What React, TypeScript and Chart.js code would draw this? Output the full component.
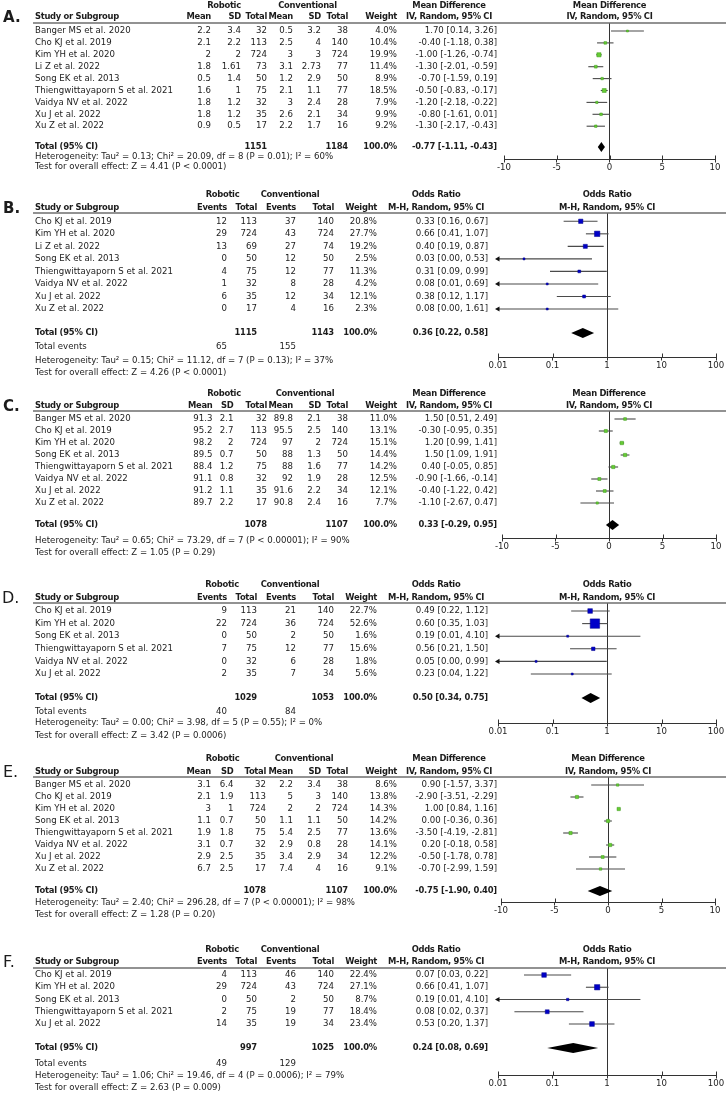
import React, { useEffect, useRef } from "react";
import { Chart, registerables } from "chart.js";

Chart.register(...registerables);

const FONT = "'DejaVu Sans', 'Liberation Sans', sans-serif";
const INK = "#1c1c1c";
const W = 726;

// ---------- axis ticks ----------
const MD_TICKS = [-10, -5, 0, 5, 10];
const MD_TICK_LABELS = ["-10", "-5", "0", "5", "10"];
const OR_TICKS = [0.01, 0.1, 1, 10, 100];
const OR_TICK_LABELS = ["0.01", "0.1", "1", "10", "100"];

// ---------- Panel A (Mean Difference) ----------
const A_STUDIES = ["Banger MS et al. 2020", "Cho KJ et al. 2019", "Kim YH et al. 2020", "Li Z et al. 2022", "Song EK et al. 2013", "Thiengwittayaporn S et al. 2021", "Vaidya NV et al. 2022", "Xu J et al. 2022", "Xu Z et al. 2022"];
const A_ROB_MEAN = [2.2, 2.1, 2, 1.8, 0.5, 1.6, 1.8, 1.8, 0.9];
const A_ROB_SD = [3.4, 2.2, 2, 1.61, 1.4, 1, 1.2, 1.2, 0.5];
const A_ROB_N = [32, 113, 724, 73, 50, 75, 32, 35, 17];
const A_CON_MEAN = [0.5, 2.5, 3, 3.1, 1.2, 2.1, 3, 2.6, 2.2];
const A_CON_SD = [3.2, 4, 3, 2.73, 2.9, 1.1, 2.4, 2.1, 1.7];
const A_CON_N = [38, 140, 724, 77, 50, 77, 28, 34, 16];
const A_WEIGHT = [4.0, 10.4, 19.9, 11.4, 8.9, 18.5, 7.9, 9.9, 9.2];
const A_EST = [1.7, -0.4, -1.0, -1.3, -0.7, -0.5, -1.2, -0.8, -1.3];
const A_LOW = [0.14, -1.18, -1.26, -2.01, -1.59, -0.83, -2.18, -1.61, -2.17];
const A_HIGH = [3.26, 0.38, -0.74, -0.59, 0.19, -0.17, -0.22, 0.01, -0.43];
const A_TOTAL = [1151, 1184];
const A_POOLED = [-0.77, -1.11, -0.43];
const A_HET = "Heterogeneity: Tau² = 0.13; Chi² = 20.09, df = 8 (P = 0.01); I² = 60%";
const A_TEST = "Test for overall effect: Z = 4.41 (P < 0.0001)";

// ---------- Panel B (Odds Ratio) ----------
const B_STUDIES = ["Cho KJ et al. 2019", "Kim YH et al. 2020", "Li Z et al. 2022", "Song EK et al. 2013", "Thiengwittayaporn S et al. 2021", "Vaidya NV et al. 2022", "Xu J et al. 2022", "Xu Z et al. 2022"];
const B_ROB_EV = [12, 29, 13, 0, 4, 1, 6, 0];
const B_ROB_N = [113, 724, 69, 50, 75, 32, 35, 17];
const B_CON_EV = [37, 43, 27, 12, 12, 8, 12, 4];
const B_CON_N = [140, 724, 74, 50, 77, 28, 34, 16];
const B_WEIGHT = [20.8, 27.7, 19.2, 2.5, 11.3, 4.2, 12.1, 2.3];
const B_EST = [0.33, 0.66, 0.4, 0.03, 0.31, 0.08, 0.38, 0.08];
const B_LOW = [0.16, 0.41, 0.19, 0.0, 0.09, 0.01, 0.12, 0.0];
const B_HIGH = [0.67, 1.07, 0.87, 0.53, 0.99, 0.69, 1.17, 1.61];
const B_TOTAL = [1115, 1143];
const B_EVENTS = [65, 155];
const B_POOLED = [0.36, 0.22, 0.58];
const B_HET = "Heterogeneity: Tau² = 0.15; Chi² = 11.12, df = 7 (P = 0.13); I² = 37%";
const B_TEST = "Test for overall effect: Z = 4.26 (P < 0.0001)";

// ---------- Panel C (Mean Difference) ----------
const C_STUDIES = ["Banger MS et al. 2020", "Cho KJ et al. 2019", "Kim YH et al. 2020", "Song EK et al. 2013", "Thiengwittayaporn S et al. 2021", "Vaidya NV et al. 2022", "Xu J et al. 2022", "Xu Z et al. 2022"];
const C_ROB_MEAN = [91.3, 95.2, 98.2, 89.5, 88.4, 91.1, 91.2, 89.7];
const C_ROB_SD = [2.1, 2.7, 2, 0.7, 1.2, 0.8, 1.1, 2.2];
const C_ROB_N = [32, 113, 724, 50, 75, 32, 35, 17];
const C_CON_MEAN = [89.8, 95.5, 97, 88, 88, 92, 91.6, 90.8];
const C_CON_SD = [2.1, 2.5, 2, 1.3, 1.6, 1.9, 2.2, 2.4];
const C_CON_N = [38, 140, 724, 50, 77, 28, 34, 16];
const C_WEIGHT = [11.0, 13.1, 15.1, 14.4, 14.2, 12.5, 12.1, 7.7];
const C_EST = [1.5, -0.3, 1.2, 1.5, 0.4, -0.9, -0.4, -1.1];
const C_LOW = [0.51, -0.95, 0.99, 1.09, -0.05, -1.66, -1.22, -2.67];
const C_HIGH = [2.49, 0.35, 1.41, 1.91, 0.85, -0.14, 0.42, 0.47];
const C_TOTAL = [1078, 1107];
const C_POOLED = [0.33, -0.29, 0.95];
const C_HET = "Heterogeneity: Tau² = 0.65; Chi² = 73.29, df = 7 (P < 0.00001); I² = 90%";
const C_TEST = "Test for overall effect: Z = 1.05 (P = 0.29)";

// ---------- Panel D (Odds Ratio) ----------
const D_STUDIES = ["Cho KJ et al. 2019", "Kim YH et al. 2020", "Song EK et al. 2013", "Thiengwittayaporn S et al. 2021", "Vaidya NV et al. 2022", "Xu J et al. 2022"];
const D_ROB_EV = [9, 22, 0, 7, 0, 2];
const D_ROB_N = [113, 724, 50, 75, 32, 35];
const D_CON_EV = [21, 36, 2, 12, 6, 7];
const D_CON_N = [140, 724, 50, 77, 28, 34];
const D_WEIGHT = [22.7, 52.6, 1.6, 15.6, 1.8, 5.6];
const D_EST = [0.49, 0.6, 0.19, 0.56, 0.05, 0.23];
const D_LOW = [0.22, 0.35, 0.01, 0.21, 0.0, 0.04];
const D_HIGH = [1.12, 1.03, 4.1, 1.5, 0.99, 1.22];
const D_TOTAL = [1029, 1053];
const D_EVENTS = [40, 84];
const D_POOLED = [0.5, 0.34, 0.75];
const D_HET = "Heterogeneity: Tau² = 0.00; Chi² = 3.98, df = 5 (P = 0.55); I² = 0%";
const D_TEST = "Test for overall effect: Z = 3.42 (P = 0.0006)";

// ---------- Panel E (Mean Difference) ----------
const E_STUDIES = ["Banger MS et al. 2020", "Cho KJ et al. 2019", "Kim YH et al. 2020", "Song EK et al. 2013", "Thiengwittayaporn S et al. 2021", "Vaidya NV et al. 2022", "Xu J et al. 2022", "Xu Z et al. 2022"];
const E_ROB_MEAN = [3.1, 2.1, 3, 1.1, 1.9, 3.1, 2.9, 6.7];
const E_ROB_SD = [6.4, 1.9, 1, 0.7, 1.8, 0.7, 2.5, 2.5];
const E_ROB_N = [32, 113, 724, 50, 75, 32, 35, 17];
const E_CON_MEAN = [2.2, 5, 2, 1.1, 5.4, 2.9, 3.4, 7.4];
const E_CON_SD = [3.4, 3, 2, 1.1, 2.5, 0.8, 2.9, 4];
const E_CON_N = [38, 140, 724, 50, 77, 28, 34, 16];
const E_WEIGHT = [8.6, 13.8, 14.3, 14.2, 13.6, 14.1, 12.2, 9.1];
const E_EST = [0.9, -2.9, 1.0, 0.0, -3.5, 0.2, -0.5, -0.7];
const E_LOW = [-1.57, -3.51, 0.84, -0.36, -4.19, -0.18, -1.78, -2.99];
const E_HIGH = [3.37, -2.29, 1.16, 0.36, -2.81, 0.58, 0.78, 1.59];
const E_TOTAL = [1078, 1107];
const E_POOLED = [-0.75, -1.9, 0.4];
const E_HET = "Heterogeneity: Tau² = 2.40; Chi² = 296.28, df = 7 (P < 0.00001); I² = 98%";
const E_TEST = "Test for overall effect: Z = 1.28 (P = 0.20)";

// ---------- Panel F (Odds Ratio) ----------
const F_STUDIES = ["Cho KJ et al. 2019", "Kim YH et al. 2020", "Song EK et al. 2013", "Thiengwittayaporn S et al. 2021", "Xu J et al. 2022"];
const F_ROB_EV = [4, 29, 0, 2, 14];
const F_ROB_N = [113, 724, 50, 75, 35];
const F_CON_EV = [46, 43, 2, 19, 19];
const F_CON_N = [140, 724, 50, 77, 34];
const F_WEIGHT = [22.4, 27.1, 8.7, 18.4, 23.4];
const F_EST = [0.07, 0.66, 0.19, 0.08, 0.53];
const F_LOW = [0.03, 0.41, 0.01, 0.02, 0.2];
const F_HIGH = [0.22, 1.07, 4.1, 0.37, 1.37];
const F_TOTAL = [997, 1025];
const F_EVENTS = [49, 129];
const F_POOLED = [0.24, 0.08, 0.69];
const F_HET = "Heterogeneity: Tau² = 1.06; Chi² = 19.46, df = 4 (P = 0.0006); I² = 79%";
const F_TEST = "Test for overall effect: Z = 2.63 (P = 0.009)";

// ---------- layout (pixel positions, local to each panel canvas) ----------
type Layout = {
  top: number; h: number; h1: number; h2: number; line: number; row0: number; step: number;
  total: number; events?: number; het: number; test: number; axis: number;
  cols: number[]; groups: number[]; ciRight: number; ciHead: number; xLeft: number; xRight: number;
  letterX: number; letterBold: boolean;
};
const MD_COLS_A = [211, 241, 267, 293, 321, 348, 397];
const MD_COLS_C = [212.5, 233.5, 267, 293, 321, 348, 397];
const MD_COLS_E = [211, 233.5, 266, 293, 321, 348, 397];
const OR_COLS = [227, 257, 296, 334, 377];

const LAYOUT_A: Layout = { top: 0, h: 176, h1: 6, h2: 17, line: 23, row0: 31, step: 11.9, total: 147, het: 157, test: 167, axis: 159, cols: MD_COLS_A, groups: [224, 307.5], ciRight: 497, ciHead: 449, xLeft: 504, xRight: 715, letterX: 3, letterBold: true };
const LAYOUT_B: Layout = { top: 178, h: 200, h1: 17, h2: 30, line: 35, row0: 43.3, step: 12.53, total: 155, events: 169, het: 183, test: 195, axis: 179, cols: OR_COLS, groups: [222.5, 290], ciRight: 488, ciHead: 436, xLeft: 498, xRight: 716, letterX: 3, letterBold: true };
const LAYOUT_C: Layout = { top: 380, h: 180, h1: 14, h2: 26, line: 31, row0: 39, step: 12, total: 145, het: 161, test: 173, axis: 158, cols: MD_COLS_C, groups: [224, 305], ciRight: 497, ciHead: 449, xLeft: 502, xRight: 716, letterX: 3, letterBold: true };
const LAYOUT_D: Layout = { top: 562, h: 180, h1: 23, h2: 36, line: 41, row0: 49, step: 12.6, total: 136, events: 150, het: 161, test: 174, axis: 161, cols: OR_COLS, groups: [222, 290], ciRight: 488, ciHead: 436, xLeft: 498, xRight: 716, letterX: 2, letterBold: false };
const LAYOUT_E: Layout = { top: 744, h: 178, h1: 15, h2: 28, line: 33, row0: 41, step: 12, total: 147, het: 159, test: 171, axis: 158, cols: MD_COLS_E, groups: [222.5, 304], ciRight: 497, ciHead: 449, xLeft: 501, xRight: 715, letterX: 3, letterBold: false };
const LAYOUT_F: Layout = { top: 922, h: 173, h1: 28, h2: 40, line: 46, row0: 53, step: 12.25, total: 126, events: 142, het: 154, test: 166, axis: 153, cols: OR_COLS, groups: [222, 290], ciRight: 488, ciHead: 436, xLeft: 498, xRight: 716, letterX: 3, letterBold: false };

type PanelDef = {
  kind: "MD" | "OR"; letter: string; studies: string[]; cells: string[][]; totalCells: string[];
  events?: number[]; weight: number[]; est: number[]; low: number[]; high: number[]; pooled: number[];
  het: string; test: string; layout: Layout;
};

const f2 = (v: number) => (Math.abs(v) < 1e-9 ? 0 : v).toFixed(2);
const ciText = (e: number, l: number, h: number) => `${f2(e)} [${f2(l)}, ${f2(h)}]`;

function mdPanel(letter: string, studies: string[], rm: number[], rs: number[], rn: number[], cm: number[], cs: number[], cn: number[], w: number[], est: number[], low: number[], high: number[], tot: number[], pooled: number[], het: string, test: string, layout: Layout): PanelDef {
  return {
    kind: "MD", letter, studies,
    cells: studies.map((_, i) => [String(rm[i]), String(rs[i]), String(rn[i]), String(cm[i]), String(cs[i]), String(cn[i]), w[i].toFixed(1) + "%"]),
    totalCells: ["", "", String(tot[0]), "", "", String(tot[1]), "100.0%"],
    weight: w, est, low, high, pooled, het, test, layout,
  };
}
function orPanel(letter: string, studies: string[], re: number[], rn: number[], ce: number[], cn: number[], w: number[], est: number[], low: number[], high: number[], tot: number[], events: number[], pooled: number[], het: string, test: string, layout: Layout): PanelDef {
  return {
    kind: "OR", letter, studies,
    cells: studies.map((_, i) => [String(re[i]), String(rn[i]), String(ce[i]), String(cn[i]), w[i].toFixed(1) + "%"]),
    totalCells: ["", String(tot[0]), "", String(tot[1]), "100.0%"],
    events, weight: w, est, low, high, pooled, het, test, layout,
  };
}

const PANELS: PanelDef[] = [
  mdPanel("A.", A_STUDIES, A_ROB_MEAN, A_ROB_SD, A_ROB_N, A_CON_MEAN, A_CON_SD, A_CON_N, A_WEIGHT, A_EST, A_LOW, A_HIGH, A_TOTAL, A_POOLED, A_HET, A_TEST, LAYOUT_A),
  orPanel("B.", B_STUDIES, B_ROB_EV, B_ROB_N, B_CON_EV, B_CON_N, B_WEIGHT, B_EST, B_LOW, B_HIGH, B_TOTAL, B_EVENTS, B_POOLED, B_HET, B_TEST, LAYOUT_B),
  mdPanel("C.", C_STUDIES, C_ROB_MEAN, C_ROB_SD, C_ROB_N, C_CON_MEAN, C_CON_SD, C_CON_N, C_WEIGHT, C_EST, C_LOW, C_HIGH, C_TOTAL, C_POOLED, C_HET, C_TEST, LAYOUT_C),
  orPanel("D.", D_STUDIES, D_ROB_EV, D_ROB_N, D_CON_EV, D_CON_N, D_WEIGHT, D_EST, D_LOW, D_HIGH, D_TOTAL, D_EVENTS, D_POOLED, D_HET, D_TEST, LAYOUT_D),
  mdPanel("E.", E_STUDIES, E_ROB_MEAN, E_ROB_SD, E_ROB_N, E_CON_MEAN, E_CON_SD, E_CON_N, E_WEIGHT, E_EST, E_LOW, E_HIGH, E_TOTAL, E_POOLED, E_HET, E_TEST, LAYOUT_E),
  orPanel("F.", F_STUDIES, F_ROB_EV, F_ROB_N, F_CON_EV, F_CON_N, F_WEIGHT, F_EST, F_LOW, F_HIGH, F_TOTAL, F_EVENTS, F_POOLED, F_HET, F_TEST, LAYOUT_F),
];

function buildConfig(p: PanelDef): any {
  const L = p.layout;
  const isOR = p.kind === "OR";
  const xMin = isOR ? 0.01 : -10;
  const xMax = isOR ? 100 : 10;
  const ticks = isOR ? OR_TICKS : MD_TICKS;
  const labels = isOR ? OR_TICK_LABELS : MD_TICK_LABELS;
  const refVal = isOR ? 1 : 0;
  const markFill = isOR ? "#0000c8" : "#66cc33";
  const markEdge = isOR ? "#00008a" : "#3f9a1f";
  const totalIdx = (L.total - L.row0) / L.step;

  const markers = {
    type: "scatter",
    data: p.est.map((e, i) => ({ x: e, y: i })),
    pointStyle: "rect",
    pointRadius: p.weight.map((w) => Math.max(2, 1 + 0.16 * w) / Math.SQRT2),
    backgroundColor: markFill,
    borderColor: markEdge,
    borderWidth: 0.5,
    order: 1,
  };
  const ciSets = p.studies.map((_, i) => {
    const lowArrow = p.low[i] <= xMin;
    const highArrow = p.high[i] >= xMax;
    return {
      type: "scatter",
      showLine: true,
      data: [
        { x: Math.max(p.low[i], xMin), y: i },
        { x: Math.min(p.high[i], xMax), y: i },
      ],
      borderColor: "#4a4a4a",
      borderWidth: 1.1,
      pointStyle: "triangle",
      pointRadius: [lowArrow ? 3 : 0, highArrow ? 3 : 0],
      pointRotation: [-90, 90],
      pointBackgroundColor: "#111",
      pointBorderWidth: 0,
      clip: false,
      order: 2,
    };
  });

  const diamondPlugin = {
    id: "pooledDiamond",
    afterDatasetsDraw(chart: any) {
      const { ctx } = chart;
      const xs = chart.scales.x;
      const ys = chart.scales.y;
      const y = ys.getPixelForValue(totalIdx);
      const [e, l, h] = p.pooled;
      ctx.save();
      ctx.fillStyle = "#000";
      ctx.beginPath();
      ctx.moveTo(xs.getPixelForValue(l), y);
      ctx.lineTo(xs.getPixelForValue(e), y - 5);
      ctx.lineTo(xs.getPixelForValue(h), y);
      ctx.lineTo(xs.getPixelForValue(e), y + 5);
      ctx.closePath();
      ctx.fill();
      // upper half of the crossing tick marks on the axis
      const ab = chart.chartArea.bottom;
      ctx.strokeStyle = "#333";
      ctx.lineWidth = 1;
      ticks.forEach((t) => {
        const x = Math.round(xs.getPixelForValue(t)) + 0.5;
        ctx.beginPath();
        ctx.moveTo(x, ab - 3.5);
        ctx.lineTo(x, ab);
        ctx.stroke();
      });
      ctx.restore();
    },
  };

  const textPlugin = {
    id: "forestText",
    afterDraw(chart: any) {
      const { ctx } = chart;
      const ys = chart.scales.y;
      const area = chart.chartArea;
      const reg = `8.6px ${FONT}`;
      const bold = `bold 8.4px ${FONT}`;
      const title = isOR ? "Odds Ratio" : "Mean Difference";
      const sub = isOR ? "M-H, Random, 95% CI" : "IV, Random, 95% CI";
      const heads = isOR ? ["Events", "Total", "Events", "Total", "Weight"] : ["Mean", "SD", "Total", "Mean", "SD", "Total", "Weight"];
      const setSpacing = (v: string) => { try { (ctx as any).letterSpacing = v; } catch (e) { /* ignore */ } };
      ctx.save();
      ctx.fillStyle = INK;
      ctx.textBaseline = "middle";

      // panel letter
      ctx.font = L.letterBold ? `bold 15px ${FONT}` : `16px ${FONT}`;
      ctx.textAlign = "left";
      ctx.fillText(p.letter, L.letterX, L.h2 + 1);

      // header rule
      ctx.strokeStyle = "#6e6e6e";
      ctx.lineWidth = 1.5;
      ctx.beginPath();
      ctx.moveTo(33, L.line);
      ctx.lineTo(W, L.line);
      ctx.stroke();

      // headers
      ctx.font = bold;
      setSpacing("-0.3px");
      ctx.textAlign = "center";
      ctx.fillText("Robotic", L.groups[0], L.h1);
      ctx.fillText("Conventional", L.groups[1], L.h1);
      ctx.fillText(title, L.ciHead, L.h1);
      ctx.fillText(sub, L.ciHead, L.h2);
      const pc = (area.left + area.right) / 2;
      ctx.fillText(title, pc, L.h1);
      ctx.fillText(sub, pc, L.h2);
      ctx.textAlign = "left";
      ctx.fillText("Study or Subgroup", 35, L.h2);
      ctx.textAlign = "right";
      heads.forEach((t, j) => ctx.fillText(t, L.cols[j], L.h2));
      setSpacing("0px");

      // study rows
      ctx.font = reg;
      p.studies.forEach((s, i) => {
        const y = ys.getPixelForValue(i);
        ctx.textAlign = "left";
        ctx.fillText(s, 35, y);
        ctx.textAlign = "right";
        p.cells[i].forEach((c, j) => ctx.fillText(c, L.cols[j], y));
        ctx.fillText(ciText(p.est[i], p.low[i], p.high[i]), L.ciRight, y);
      });

      // total row
      const ty = ys.getPixelForValue(totalIdx);
      ctx.font = bold;
      setSpacing("-0.2px");
      ctx.textAlign = "left";
      ctx.fillText("Total (95% CI)", 35, ty);
      ctx.textAlign = "right";
      p.totalCells.forEach((c, j) => { if (c) ctx.fillText(c, L.cols[j], ty); });
      ctx.fillText(ciText(p.pooled[0], p.pooled[1], p.pooled[2]), L.ciRight, ty);
      setSpacing("0px");

      ctx.font = reg;
      if (p.events && L.events !== undefined) {
        ctx.textAlign = "left";
        ctx.fillText("Total events", 35, L.events);
        ctx.textAlign = "right";
        ctx.fillText(String(p.events[0]), L.cols[0], L.events);
        ctx.fillText(String(p.events[1]), L.cols[2], L.events);
      }
      ctx.textAlign = "left";
      ctx.fillText(p.het, 35, L.het);
      ctx.fillText(p.test, 35, L.test);
      ctx.restore();
    },
  };

  return {
    type: "scatter",
    data: { datasets: [markers, ...ciSets] },
    options: {
      responsive: false,
      animation: false,
      devicePixelRatio: 1,
      events: [],
      layout: { padding: { left: L.xLeft, right: W - L.xRight, top: L.line, bottom: 0 } },
      plugins: { legend: { display: false }, tooltip: { enabled: false }, title: { display: false } },
      scales: {
        x: {
          type: isOR ? "logarithmic" : "linear",
          min: xMin,
          max: xMax,
          position: "bottom",
          afterBuildTicks: (s: any) => { s.ticks = ticks.map((v) => ({ value: v })); },
          afterFit: (s: any) => { s.height = L.h - L.axis; },
          ticks: {
            autoSkip: false,
            maxRotation: 0,
            minRotation: 0,
            padding: 0,
            color: INK,
            font: { family: FONT, size: 8.6 },
            callback: (v: number) => {
              const k = ticks.findIndex((t) => Math.abs(t - v) < 1e-9 * Math.max(1, Math.abs(t)));
              return k >= 0 ? labels[k] : "";
            },
          },
          grid: {
            drawOnChartArea: true,
            drawTicks: true,
            tickLength: 3.5,
            tickColor: "#333",
            lineWidth: 1,
            color: (c: any) => (c.tick && Math.abs(c.tick.value - refVal) < 1e-9 ? "#333" : "rgba(0,0,0,0)"),
          },
          border: { display: true, color: "#333", width: 1 },
        },
        y: {
          type: "linear",
          display: false,
          reverse: true,
          min: (L.line - L.row0) / L.step,
          max: (L.axis - L.row0) / L.step,
        },
      },
    },
    plugins: [diamondPlugin, textPlugin],
  };
}

function Panel({ p }: { p: PanelDef }) {
  const ref = useRef<HTMLCanvasElement>(null);
  useEffect(() => {
    if (!ref.current) return;
    const chart = new Chart(ref.current, buildConfig(p));
    return () => chart.destroy();
  }, [p]);
  return (
    <canvas
      ref={ref}
      width={W}
      height={p.layout.h}
      style={{ position: "absolute", left: 0, top: p.layout.top, width: W, height: p.layout.h, display: "block" }}
    />
  );
}

export default function App() {
  return (
    <div style={{ position: "absolute", left: 0, top: 0, width: W, height: 1095, background: "#fff", overflow: "hidden" }}>
      {PANELS.map((p) => (
        <Panel key={p.letter} p={p} />
      ))}
    </div>
  );
}
